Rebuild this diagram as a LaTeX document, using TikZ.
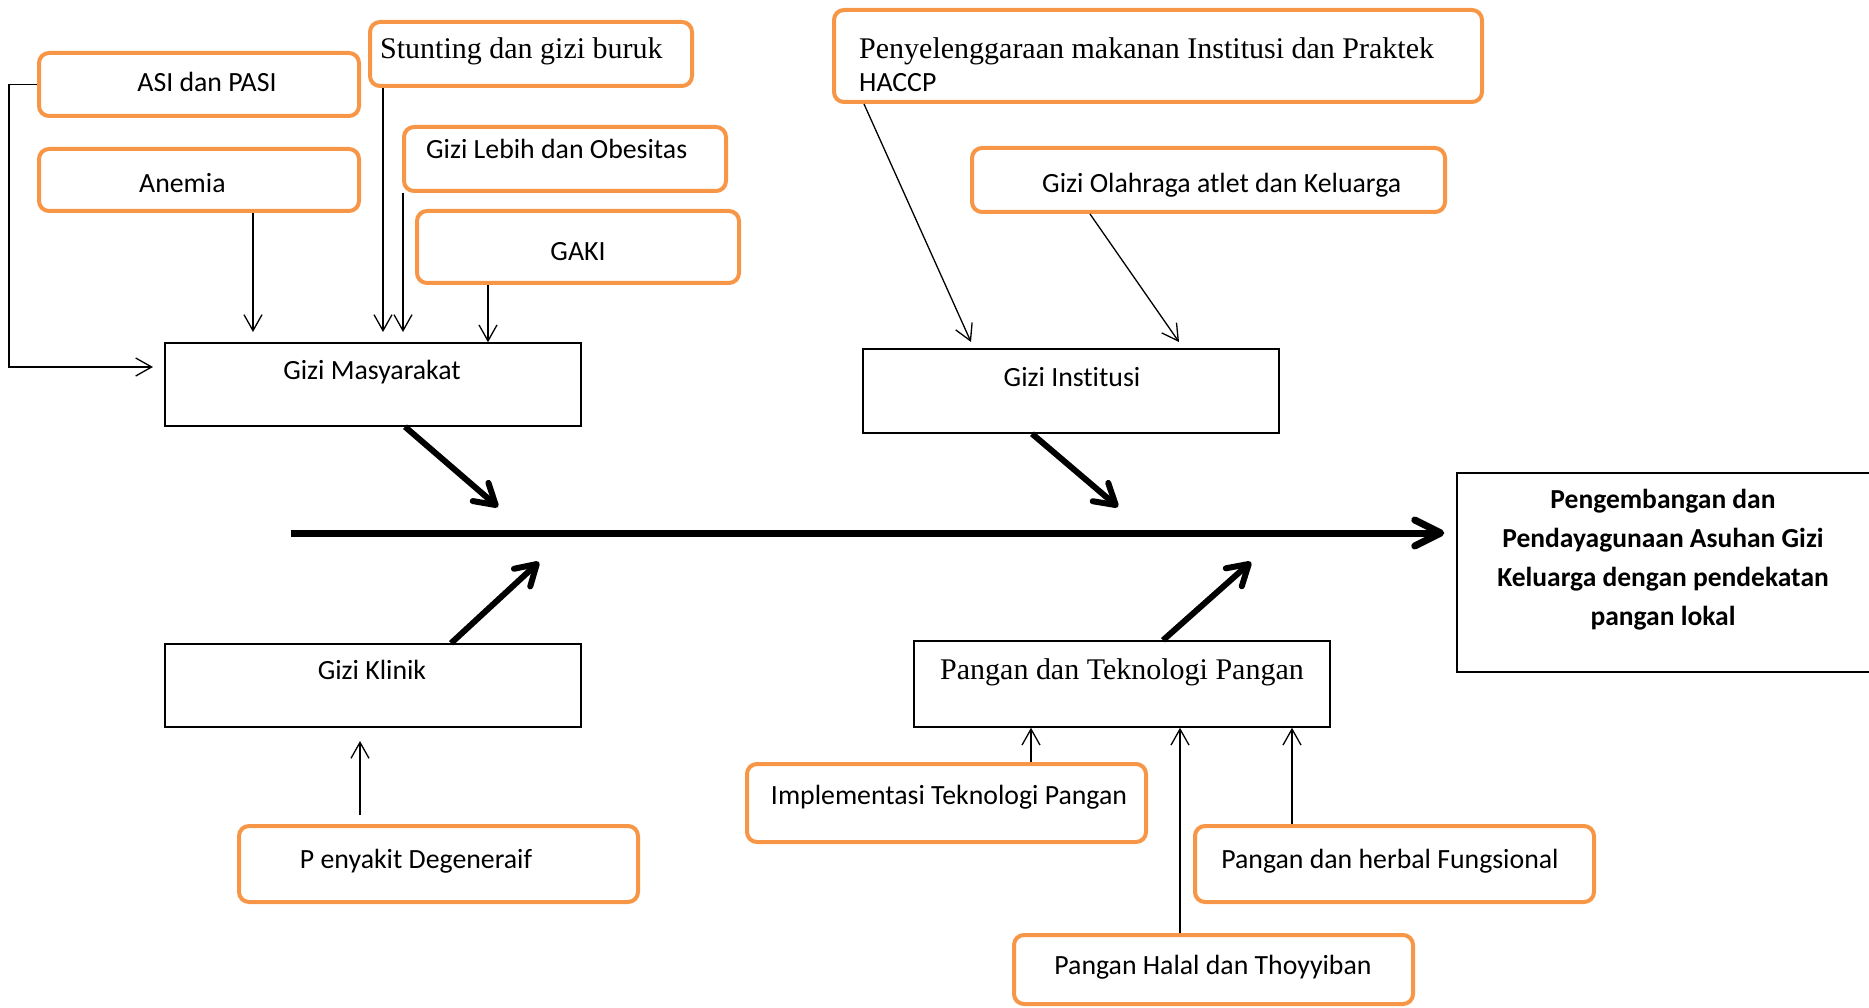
\documentclass[tikz,border=0pt]{standalone}
\usepackage{fontspec}
\setmainfont{Liberation Serif}
\newfontfamily\carlito[Ligatures=NoCommon]{Carlito}
\usetikzlibrary{arrows.meta,calc}
\definecolor{boxorange}{RGB}{247,150,70}
\tikzset{
  obox/.style={draw=boxorange, line width=4pt, rounded corners=10pt, inner sep=0pt},
  kbox/.style={draw=black, line width=1.5pt, inner sep=0pt},
  ctext/.style={font=\carlito\fontsize{27.8}{32}\selectfont, inner sep=0pt},
  ttext/.style={font=\fontsize{30}{34}\selectfont, inner sep=0pt},
  thinarrow/.style={line width=1.3pt, -{Straight Barb[length=16pt,width=18pt]}},
  bigarrow/.style={line width=6pt, -{Straight Barb[length=20pt,width=24pt,round]}},
  spinearrow/.style={line width=7pt, -{Straight Barb[length=26pt,width=26pt,round]}},
}
\begin{document}
\begin{tikzpicture}[x=1pt,y=-1pt]
\useasboundingbox (0,0) rectangle (1869,1008);
% ---------- orange boxes ----------
\node[obox, minimum width=320pt, minimum height=63pt] (asi) at (199,84.5) {};
\node[obox, minimum width=320pt, minimum height=62pt] (anemia) at (199,180) {};
\node[obox, minimum width=322pt, minimum height=64pt] (stunt) at (531,54) {};
\node[obox, minimum width=322pt, minimum height=64pt] (lebih) at (565,159) {};
\node[obox, minimum width=322pt, minimum height=72pt] (gaki) at (578,247) {};
\node[obox, minimum width=648pt, minimum height=92pt] (pm) at (1158,56) {};
\node[obox, minimum width=473pt, minimum height=64pt] (olah) at (1208.5,180) {};
\node[obox, minimum width=399pt, minimum height=78pt] (impl) at (946.5,803) {};
\node[obox, minimum width=399pt, minimum height=69pt] (halal) at (1213.5,969.5) {};
\node[obox, minimum width=399pt, minimum height=76pt] (herb) at (1394.5,864) {};
\node[obox, minimum width=399pt, minimum height=76pt] (pd) at (438.5,864) {};
% ---------- black boxes ----------
\node[kbox, minimum width=416pt, minimum height=83pt] (gm) at (373,384.5) {};
\node[kbox, minimum width=416pt, minimum height=84pt] (gi) at (1071,391) {};
\node[kbox, minimum width=416pt, minimum height=83pt] (gk) at (373,685.5) {};
\node[kbox, minimum width=416pt, minimum height=86pt] (ptp) at (1122,684) {};
\node[kbox, minimum width=423pt, minimum height=199pt] (eff) at (1668.5,572.5) {};
% ---------- texts ----------
\node[ctext, anchor=base] (asiT) at (207,92) {ASI dan PASI};
\node[ctext, anchor=base west] (anemiaT) at (139,193) {Anemia};
\node[ttext, anchor=base west] (stuntT) at (380,59) {Stunting dan gizi buruk};
\node[ctext, anchor=base west] (lebihT) at (426,159) {Gizi Lebih dan Obesitas};
\node[ctext, anchor=base] (gakiT) at (578,261) {GAKI};
\node[ctext, anchor=base] (gmT) at (372,379) {Gizi Masyarakat};
\node[ttext, anchor=base west] (pmT) at (859,59) {Penyelenggaraan makanan Institusi dan Praktek};
\node[ctext, anchor=base west] (pmT2) at (859,92) {HACCP};
\node[ctext, anchor=base west] (olahT) at (1042,193) {Gizi Olahraga atlet dan Keluarga};
\node[ctext, anchor=base] (giT) at (1072,386) {Gizi Institusi};
\node[ctext, anchor=base] (gkT) at (372,679) {Gizi Klinik};
\node[ttext, anchor=base] (ptpT) at (1122,679) {Pangan dan Teknologi Pangan};
\node[ctext, anchor=base] (implT) at (949,804) {Implementasi Teknologi Pangan};
\node[ctext, anchor=base] (pdT) at (416,868) {P enyakit Degeneraif};
\node[ctext, anchor=base] (herbT) at (1390,868) {Pangan dan herbal Fungsional};
\node[ctext, anchor=base] (halalT) at (1213,974) {Pangan Halal dan Thoyyiban};
\node[font=\carlito\bfseries\fontsize{27.5}{39}\selectfont, align=center, inner sep=0pt] (effT) at (1663,559.5)
  {Pengembangan dan\\Pendayagunaan Asuhan Gizi\\Keluarga dengan pendekatan\\pangan lokal};
% ---------- coordinates ----------
\coordinate (asiIn) at (153,367);
\coordinate (anTip) at (253,332);
\coordinate (stTip) at (383,332);
\coordinate (glTip) at (403,332);
\coordinate (gakiX) at (488,0);
\coordinate (pmX) at (864,0);
\coordinate (pmTip) at (971,342);
\coordinate (olX) at (1090,0);
\coordinate (olTip) at (1179,342);
\coordinate (pdTail) at (360,815);
\coordinate (pdTip) at (360,741);
\coordinate (imX) at (1031,0);
\coordinate (haX) at (1180,0);
\coordinate (hbX) at (1292,0);
\coordinate (spStart) at (291,533);
\coordinate (d1Tip) at (498,507);
\coordinate (d2Tip) at (1118,507);
\coordinate (d3Tip) at (539,562);
\coordinate (d4Tip) at (1251,562);
% ---------- thin connectors ----------
\draw[thinarrow] (asi.west) -- ++(-28,0) |- (asiIn);
\draw[thinarrow] (anemia.south -| anTip) -- (anTip);
\draw[thinarrow] (stunt.south -| stTip) -- (stTip);
\draw[thinarrow] (lebih.south -| glTip) -- (glTip);
\draw[thinarrow] (gaki.south -| gakiX) -- (gm.north -| gakiX);
\draw[thinarrow] (pm.south -| pmX) -- (pmTip);
\draw[thinarrow] (olah.south -| olX) -- (olTip);
\draw[thinarrow] (pdTail) -- (pdTip);
\draw[thinarrow] (impl.north -| imX) -- (ptp.south -| imX);
\draw[thinarrow] (halal.north -| haX) -- (ptp.south -| haX);
\draw[thinarrow] (herb.north -| hbX) -- (ptp.south -| hbX);
% ---------- spine and bones ----------
\draw[spinearrow, shorten >=12pt] (spStart) -- (spStart -| eff.west);
\draw[bigarrow] ($(gm.south)+(32,0)$) -- (d1Tip);
\draw[bigarrow] ($(gi.south)+(-39,0)$) -- (d2Tip);
\draw[bigarrow] ($(gk.north)+(78,0)$) -- (d3Tip);
\draw[bigarrow] ($(ptp.north)+(41,0)$) -- (d4Tip);
\end{tikzpicture}
\end{document}
